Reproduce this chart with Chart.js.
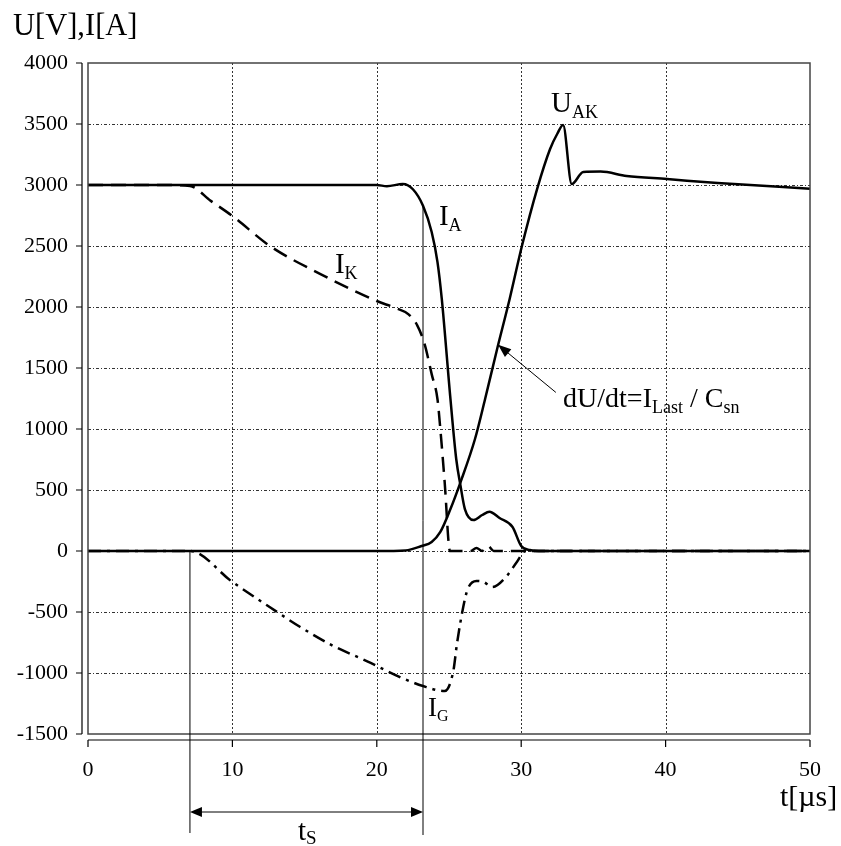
<!DOCTYPE html>
<html>
<head>
<meta charset="utf-8">
<script src="https://cdn.jsdelivr.net/npm/chart.js@4.4.0/dist/chart.umd.min.js"></script>
<style>
  body { margin: 0; background: #fff; }
  canvas { display: block; }
</style>
</head>
<body>
<canvas id="chart" width="841" height="846"></canvas>
<script>
// time axis in µs, values in V / A
const iaTime  = [0, 10, 20, 20.7, 21.8, 22.5, 23.2, 23.8, 24.2, 24.5, 25.1, 25.5, 25.8, 26.1, 26.7, 27.3, 27.8, 28.5, 29.4, 30.0, 30.6, 31.5, 40, 50];
const iaValue = [3000, 3000, 3000, 2990, 3008, 2965, 2830, 2615, 2370, 2066, 1246, 754, 533, 344, 254, 295, 322, 270, 197, 41, 8, 0, 0, 0];

const uakTime  = [0, 10, 20, 22, 23.1, 23.8, 24.4, 25.1, 25.8, 26.8, 27.5, 28.3, 29.2, 30.05, 31.1, 32.0, 32.5, 32.9, 33.5, 34.3, 35.5, 37.3, 40.1, 43.6, 50];
const uakValue = [0, 0, 0, 5, 41, 74, 156, 344, 565, 918, 1246, 1640, 2066, 2500, 2967, 3295, 3420, 3492, 3008, 3107, 3110, 3074, 3049, 3016, 2970];

const ikTime  = [0, 5, 7.06, 8.5, 10, 12.6, 16.1, 20, 21.3, 22.2, 22.8, 23.3, 23.8, 24.2, 24.4, 24.7, 25.07, 26.5, 26.9, 27.3, 27.7, 28.1, 30, 40, 50];
const ikValue = [3000, 3000, 2992, 2870, 2746, 2500, 2270, 2049, 1992, 1940, 1850, 1700, 1450, 1246, 1000, 565, 0, 0, 25, 0, 41, 0, 0, 0, 0];

const igTime  = [0, 5, 7.06, 10, 13.1, 14.7, 17, 19.3, 21.6, 23.2, 24.7, 25.3, 25.55, 26.0, 26.3, 26.9, 27.4, 28.0, 29.0, 29.7, 30.3, 35, 50];
const igValue = [0, 0, 0, -254, -500, -623, -779, -902, -1033, -1107, -1148, -984, -762, -451, -311, -246, -254, -295, -205, -90, 0, 0, 0];

const xTicks = [0, 10, 20, 30, 40, 50];
const yTicks = [-1500, -1000, -500, 0, 500, 1000, 1500, 2000, 2500, 3000, 3500, 4000];

// t_S marker: start and end time, in µs
const tsStart = 7.06;
const tsEnd = 23.2;

const FONT = '"Liberation Serif", "Times New Roman", serif';

function pts(t, v) {
  return t.map((x, i) => ({ x: x, y: v[i] }));
}

// draws text made of [string, size, baselineShift] pieces
function richText(ctx, x, y, parts) {
  ctx.textAlign = 'left';
  ctx.textBaseline = 'alphabetic';
  parts.forEach(p => {
    ctx.font = p[1] + 'px ' + FONT;
    ctx.fillText(p[0], x, y + (p[2] || 0));
    x += ctx.measureText(p[0]).width;
  });
}

function arrowHead(ctx, x, y, angle, len, half) {
  ctx.save();
  ctx.translate(x, y);
  ctx.rotate(angle);
  ctx.beginPath();
  ctx.moveTo(0, 0);
  ctx.lineTo(-len, -half);
  ctx.lineTo(-len, half);
  ctx.closePath();
  ctx.fill();
  ctx.restore();
}

const paper = {
  id: 'paper',
  beforeDatasetsDraw(chart) {
    const { ctx, chartArea: a, scales: { x, y } } = chart;
    ctx.save();
    ctx.strokeStyle = '#333';
    ctx.lineWidth = 1;
    ctx.setLineDash([2, 2]);
    ctx.beginPath();
    xTicks.slice(1, -1).forEach(v => {
      const p = Math.round(x.getPixelForValue(v)) + 0.5;
      ctx.moveTo(p, a.top); ctx.lineTo(p, a.bottom);
    });
    ctx.stroke();
    ctx.setLineDash([3, 2, 1, 2]);
    ctx.beginPath();
    yTicks.slice(1, -1).forEach(v => {
      const p = Math.round(y.getPixelForValue(v)) + 0.5;
      ctx.moveTo(a.left, p); ctx.lineTo(a.right, p);
    });
    ctx.stroke();
    ctx.restore();
  },
  afterDatasetsDraw(chart) {
    const { ctx, chartArea: a, scales: { x, y } } = chart;
    ctx.save();
    // plot frame
    ctx.strokeStyle = '#444';
    ctx.lineWidth = 1.5;
    ctx.strokeRect(a.left, a.top, a.right - a.left, a.bottom - a.top);

    // detached axes with ticks
    ctx.strokeStyle = '#000';
    ctx.lineWidth = 1.2;
    const ax = a.left - 6;
    const ay = a.bottom + 6;
    ctx.beginPath();
    ctx.moveTo(ax, a.top); ctx.lineTo(ax, a.bottom);
    yTicks.forEach(v => {
      const p = y.getPixelForValue(v);
      ctx.moveTo(ax - 6, p); ctx.lineTo(ax, p);
    });
    ctx.moveTo(a.left, ay); ctx.lineTo(a.right, ay);
    xTicks.forEach(v => {
      const p = x.getPixelForValue(v);
      ctx.moveTo(p, ay); ctx.lineTo(p, ay + 7);
    });
    ctx.stroke();

    // t_S marker lines and double arrow
    ctx.lineWidth = 1;
    const x1 = x.getPixelForValue(tsStart);
    const x2 = x.getPixelForValue(tsEnd);
    const arrowY = a.bottom + 78;
    ctx.beginPath();
    ctx.moveTo(x1, y.getPixelForValue(0)); ctx.lineTo(x1, a.bottom + 99);
    ctx.moveTo(x2, y.getPixelForValue(2830)); ctx.lineTo(x2, a.bottom + 101);
    ctx.moveTo(x1 + 4, arrowY); ctx.lineTo(x2 - 4, arrowY);
    ctx.stroke();
    ctx.fillStyle = '#000';
    arrowHead(ctx, x1, arrowY, Math.PI, 12, 5);
    arrowHead(ctx, x2, arrowY, 0, 12, 5);

    // dU/dt arrow
    const tipX = x.getPixelForValue(28.4), tipY = y.getPixelForValue(1690);
    const tailX = x.getPixelForValue(32.4), tailY = y.getPixelForValue(1300);
    ctx.beginPath();
    ctx.moveTo(tailX, tailY); ctx.lineTo(tipX, tipY);
    ctx.stroke();
    arrowHead(ctx, tipX, tipY, Math.atan2(tipY - tailY, tipX - tailX), 13, 5);

    // curve labels
    ctx.fillStyle = '#000';
    richText(ctx, x.getPixelForValue(17.1), y.getPixelForValue(2279), [['I', 29], ['K', 18, 6]]);
    richText(ctx, x.getPixelForValue(24.3), y.getPixelForValue(2672), [['I', 29], ['A', 18, 6]]);
    richText(ctx, x.getPixelForValue(32.06), y.getPixelForValue(3598), [['U', 29], ['AK', 18, 6]]);
    richText(ctx, x.getPixelForValue(23.55), y.getPixelForValue(-1352), [['I', 27], ['G', 16, 5]]);
    richText(ctx, x.getPixelForValue(32.9), y.getPixelForValue(1180),
      [['dU/dt=I', 28], ['Last', 18, 6], [' / C', 28], ['sn', 18, 6]]);
    richText(ctx, x1 + 108, a.bottom + 106, [['t', 29], ['S', 19, 4]]);

    // axis titles
    richText(ctx, 13, 35, [['U[V],I[A]', 30.5]]);
    richText(ctx, 780, 806, [['t[µs]', 30]]);
    ctx.restore();
  }
};

const lineBase = {
  borderColor: '#000',
  borderWidth: 2.5,
  pointRadius: 0,
  fill: false,
  cubicInterpolationMode: 'monotone',
  clip: false
};

new Chart(document.getElementById('chart'), {
  type: 'line',
  data: {
    datasets: [
      Object.assign({ label: 'I_A', data: pts(iaTime, iaValue) }, lineBase),
      Object.assign({ label: 'U_AK', data: pts(uakTime, uakValue) }, lineBase),
      Object.assign({ label: 'I_K', data: pts(ikTime, ikValue), borderDash: [15, 8] }, lineBase),
      Object.assign({ label: 'I_G', data: pts(igTime, igValue), borderDash: [13, 6, 3, 6] }, lineBase)
    ]
  },
  options: {
    responsive: false,
    animation: false,
    layout: { padding: { top: 63, right: 31, left: 0, bottom: 0 } },
    plugins: {
      legend: { display: false },
      tooltip: { enabled: false }
    },
    scales: {
      x: {
        type: 'linear',
        min: 0,
        max: 50,
        afterFit: s => { s.height = 112; },
        afterBuildTicks: s => { s.ticks = xTicks.map(v => ({ value: v })); },
        grid: { display: false },
        border: { display: false },
        ticks: {
          color: '#000', font: { family: FONT, size: 22 }, padding: 15, maxRotation: 0,
          callback: v => String(v)
        }
      },
      y: {
        min: -1500,
        max: 4000,
        afterFit: s => { s.width = 88; },
        afterBuildTicks: s => { s.ticks = yTicks.map(v => ({ value: v })); },
        grid: { display: false },
        border: { display: false },
        ticks: {
          color: '#000', font: { family: FONT, size: 22 }, padding: 12,
          callback: v => String(v)
        }
      }
    }
  },
  plugins: [paper]
});
</script>
</body>
</html>
